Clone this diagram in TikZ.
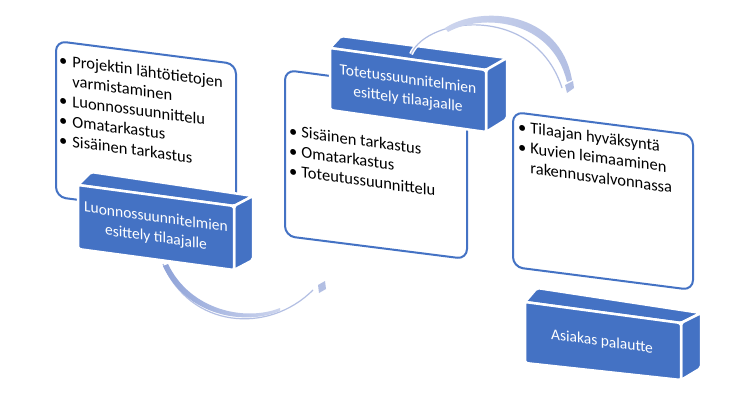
\documentclass[tikz,border=0pt]{standalone}
\usepackage{fontspec}
\setmainfont{Carlito}
\begin{document}
\begin{tikzpicture}[x=1pt,y=-1pt]
\definecolor{boxblue}{HTML}{4472C4}
\definecolor{arclight}{HTML}{B3BFE3}
\definecolor{arcdark}{HTML}{8FA3D8}
\definecolor{arcpale}{HTML}{CDD5EE}
\tikzset{
  panel/.style={draw=boxblue, line width=2pt, fill=white, rounded corners=10pt},
  face/.style={fill=boxblue, draw=white, line width=2.5pt, rounded corners=2pt, line join=round},
  boxtext/.style={text=white, font=\fontsize{15.5}{20}\selectfont, align=center, yslant=-0.14, inner sep=0pt},
  listtext/.style={font=\fontsize{16.5}{20}\selectfont, anchor=north west, yslant=-0.135, inner sep=0pt, align=left},
  arcline/.style={draw=arclight, line width=1.2pt},
  arrowsq/.style={fill=arclight},
}
\useasboundingbox[fill=white] (0,0) rectangle (736,401);

% ---- bottom circular arrow ----
\coordinate (b1s) at (163,264);
\coordinate (b1e) at (313,290);
\draw[arcline] (b1s) .. controls (190,328) and (268,335) .. (b1e);
\shade[left color=arcdark, right color=arcpale]
  (168,264) .. controls (190,310) and (245,322) .. (280,308)
  -- (280,311) .. controls (245,326) and (186,316) .. (163,266) -- cycle;
\fill[arrowsq] (318,285) -- (325,281) -- (326,289) -- (319,293) -- cycle;

% ---- panels ----
\draw[panel] (56,41) -- (236,64) -- (236,220) -- (56,197) -- cycle;
\draw[panel] (285,70) -- (467,94) -- (467,259) -- (285,236) -- cycle;
\draw[panel] (513,112) -- (693,135) -- (693,290) -- (513,267) -- cycle;

% ---- box 1 ----
\filldraw[face] (78,185) -- (234,206) -- (253,196) -- (91,172) -- cycle;
\filldraw[face] (234,206) -- (253,196) -- (253,260) -- (234,270) -- cycle;
\filldraw[face] (78,185) -- (234,206) -- (234,270) -- (78,249) -- cycle;
\node[boxtext] (t1) at (156,228) {Luonnossuunnitelmien\\esittely tilaajalle};

% ---- box 2 ----
\filldraw[face] (330,48) -- (486,70) -- (507,58) -- (341,36) -- cycle;
\filldraw[face] (486,70) -- (507,58) -- (507,119) -- (486,132) -- cycle;
\filldraw[face] (330,48) -- (486,70) -- (486,132) -- (330,110) -- cycle;
\node[boxtext] (t2) at (408,90) {Totetussuunnitelmien\\esittely tilaajaalle};

% ---- box 3 ----
\filldraw[face] (525,302) -- (681,323) -- (701,313) -- (537,288) -- cycle;
\filldraw[face] (681,323) -- (701,313) -- (701,368) -- (681,380) -- cycle;
\filldraw[face] (525,302) -- (681,323) -- (681,380) -- (525,363) -- cycle;
\node[boxtext] (t3) at (602,342) {Asiakas palautte};

% ---- top circular arrow ----
\coordinate (a2s) at (411,54);
\coordinate (a2e) at (562,88);
\draw[white, line width=4pt] (a2s) .. controls (428,16) and (535,4) .. (a2e);
\draw[arcline] (a2s) .. controls (428,16) and (535,4) .. (a2e);
\shade[left color=arcpale, right color=arclight]
  (445,28) .. controls (480,5) and (560,10) .. (572,80)
  -- (567,82) .. controls (552,19) and (482,13) .. (448,32) -- cycle;
\fill[arrowsq] (565,85) -- (573,81) -- (574,88) -- (567,93) -- cycle;

% ---- panel texts ----
\node[listtext] (l1) at (59,51) {\begin{tabular}{@{}l@{\hspace{5pt}}l@{}}
\textbullet & Projektin lähtötietojen\\
 & varmistaminen\\
\textbullet & Luonnossuunnittelu\\
\textbullet & Omatarkastus\\
\textbullet & Sisäinen tarkastus
\end{tabular}};
\node[listtext] (l2) at (289,122) {\begin{tabular}{@{}l@{\hspace{4pt}}l@{}}
\textbullet & Sisäinen tarkastus\\
\textbullet & Omatarkastus\\
\textbullet & Toteutussuunnittelu
\end{tabular}};
\node[listtext] (l3) at (518,118) {\begin{tabular}{@{}l@{\hspace{4pt}}l@{}}
\textbullet & Tilaajan hyväksyntä\\
\textbullet & Kuvien leimaaminen\\
 & rakennusvalvonnassa
\end{tabular}};
\end{tikzpicture}
\end{document}
